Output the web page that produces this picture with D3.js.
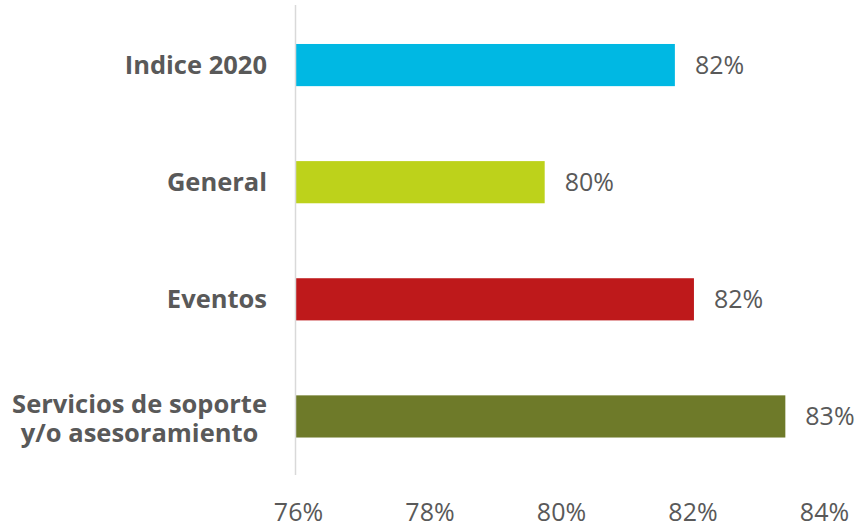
<!DOCTYPE html>
<meta charset="utf-8">
<script src="https://d3js.org/d3.v7.min.js"></script>
<style>
  body { margin: 0; background: #fff; }
  svg text { font-family: "Open Sans", sans-serif; fill: #595959; }
</style>
<body>
<div id="chart"></div>
<script>
  // chart data
  var categories = [["Indice 2020"], ["General"], ["Eventos"], ["Servicios de soporte", "y/o asesoramiento"]];
  var values = [81.77, 79.79, 82.06, 83.45];
  var valueLabels = ["82%", "80%", "82%", "83%"];
  var colours = ["#00B8E3", "#BDD21B", "#BE191B", "#6E7A29"];
  var tickValues = [76, 78, 80, 82, 84];

  var width = 861, height = 531;
  var svg = d3.select("#chart").append("svg")
      .attr("width", width)
      .attr("height", height);

  var x = d3.scaleLinear().domain([76, 84]).range([295.5, 821.5]);
  var y = d3.scaleBand()
      .domain(d3.range(categories.length))
      .range([6.5, 475])
      .paddingInner(0.64)
      .paddingOuter(0.32);

  // bars
  svg.append("g").selectAll("rect")
    .data(values)
    .join("rect")
      .attr("x", x(76))
      .attr("y", (d, i) => y(i))
      .attr("width", d => x(d) - x(76))
      .attr("height", y.bandwidth())
      .attr("fill", (d, i) => colours[i]);

  // vertical axis line
  svg.append("line")
      .attr("x1", x(76)).attr("x2", x(76))
      .attr("y1", 5).attr("y2", 475)
      .attr("stroke", "#d9d9d9")
      .attr("stroke-width", 1.5);

  // value labels
  svg.append("g").selectAll("text")
    .data(values)
    .join("text")
      .attr("x", d => x(d) + 20)
      .attr("y", (d, i) => y(i) + y.bandwidth() / 2)
      .attr("dy", "0.36em")
      .style("font-size", "25px")
      .text((d, i) => valueLabels[i]);

  // category labels (multi-line ones are centred inside the block)
  var labelRight = 267;
  categories.forEach(function (lines, i) {
    var cy = y(i) + y.bandwidth() / 2;
    var t = svg.append("text")
        .style("font-size", "25.5px")
        .style("font-weight", "bold");
    var spans = lines.map(function (l, j) {
      var off = lines.length > 1 ? 2 : 0;
      return t.append("tspan")
          .attr("y", cy + off + (j - (lines.length - 1) / 2) * 29)
          .attr("dy", "0.36em")
          .text(l);
    });
    if (lines.length === 1) {
      t.attr("text-anchor", "end");
      spans[0].attr("x", labelRight);
    } else {
      var w = d3.max(spans, s => s.node().getComputedTextLength());
      t.attr("text-anchor", "middle");
      spans.forEach(s => s.attr("x", labelRight - w / 2));
    }
  });

  // x tick labels
  svg.append("g").selectAll("text")
    .data(tickValues)
    .join("text")
      .attr("x", d => x(d) + 3)
      .attr("y", 512)
      .attr("dy", "0.36em")
      .attr("text-anchor", "middle")
      .style("font-size", "25px")
      .text(d => d + "%");
</script>
</body>
